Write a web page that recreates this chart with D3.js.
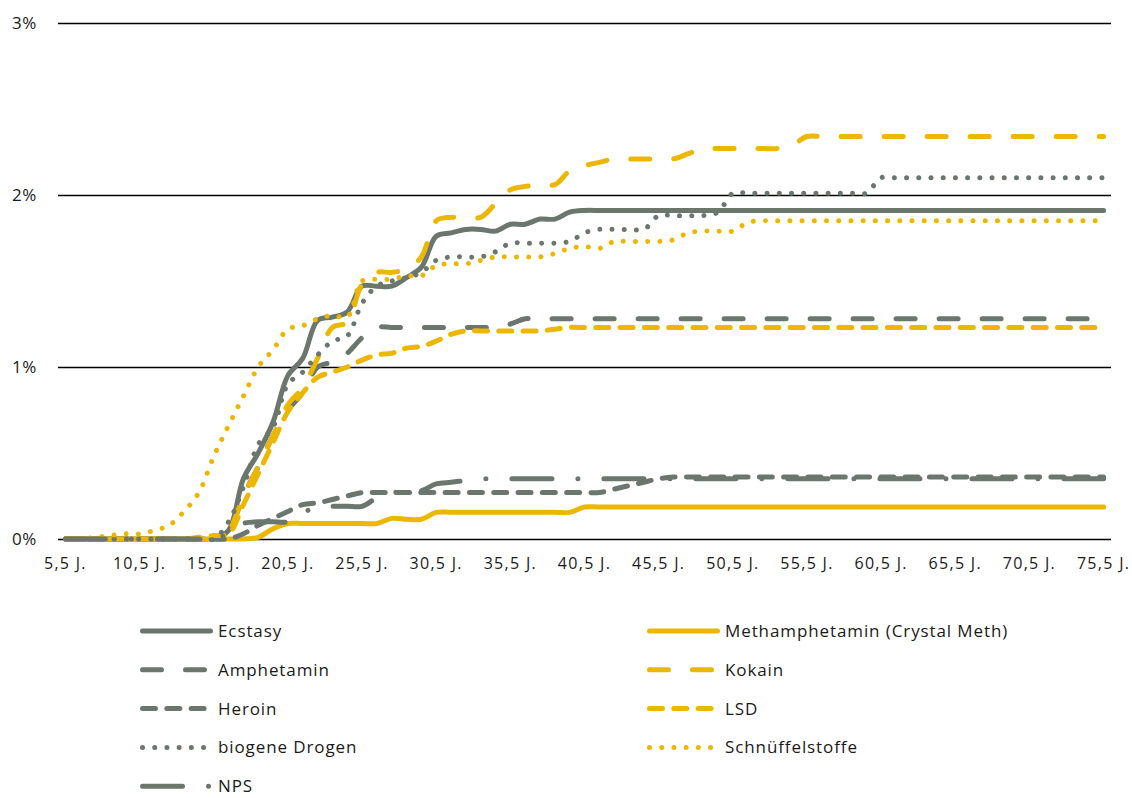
<!DOCTYPE html>
<html><head><meta charset="utf-8">
<script src="https://cdn.jsdelivr.net/npm/d3@7"></script>
<style>
html,body{margin:0;padding:0;background:#fff;}
svg{display:block;}
text{font-family:"Open Sans","Noto Sans",sans-serif;fill:#1a1a1a;}
</style></head>
<body>
<svg id="chart" width="1132" height="798"></svg>
<script>
// ---- categories (age) ----
const ages = [5.5,6.5,7.5,8.5,9.5,10.5,11.5,12.5,13.5,14.5,15.5,16.5,17.5,18.5,19.5,20.5,21.5,22.5,23.5,24.5,25.5,26.5,27.5,28.5,29.5,30.5,31.5,32.5,33.5,34.5,35.5,36.5,37.5,38.5,39.5,40.5,41.5,42.5,43.5,44.5,45.5,46.5,47.5,48.5,49.5,50.5,51.5,52.5,53.5,54.5,55.5,56.5,57.5,58.5,59.5,60.5,61.5,62.5,63.5,64.5,65.5,66.5,67.5,68.5,69.5,70.5,71.5,72.5,73.5,74.5,75.5];
const xTickValues = [5.5,10.5,15.5,20.5,25.5,30.5,35.5,40.5,45.5,50.5,55.5,60.5,65.5,70.5,75.5];
const xTickLabels = ["5,5 J.","10,5 J.","15,5 J.","20,5 J.","25,5 J.","30,5 J.","35,5 J.","40,5 J.","45,5 J.","50,5 J.","55,5 J.","60,5 J.","65,5 J.","70,5 J.","75,5 J."];
const yTickValues = [0,1,2,3];
const yTickLabels = ["0%","1%","2%","3%"];

// ---- series values (% lifetime prevalence by age) ----
const ecstasy = [0,0,0,0,0,0,0,0,0,0,0,0.05,0.35,0.5,0.68,0.95,1.05,1.27,1.29,1.32,1.47,1.47,1.47,1.52,1.58,1.76,1.78,1.80,1.80,1.79,1.83,1.83,1.86,1.86,1.90,1.91,1.91,1.91,1.91,1.91,1.91,1.91,1.91,1.91,1.91,1.91,1.91,1.91,1.91,1.91,1.91,1.91,1.91,1.91,1.91,1.91,1.91,1.91,1.91,1.91,1.91,1.91,1.91,1.91,1.91,1.91,1.91,1.91,1.91,1.91,1.91];
const methamphetamin = [0,0,0,0,0,0,0,0,0,0,0,0,0,0.01,0.06,0.09,0.09,0.09,0.09,0.09,0.09,0.09,0.12,0.115,0.115,0.155,0.155,0.155,0.155,0.155,0.155,0.155,0.155,0.155,0.155,0.186,0.186,0.186,0.186,0.186,0.186,0.186,0.186,0.186,0.186,0.186,0.186,0.186,0.186,0.186,0.186,0.186,0.186,0.186,0.186,0.186,0.186,0.186,0.186,0.186,0.186,0.186,0.186,0.186,0.186,0.186,0.186,0.186,0.186,0.186,0.186];
const amphetamin = [0,0,0,0,0,0,0,0,0,0,0,0.05,0.25,0.42,0.6,0.75,0.85,1.0,1.03,1.08,1.17,1.23,1.23,1.23,1.23,1.23,1.23,1.23,1.23,1.23,1.25,1.28,1.28,1.28,1.28,1.28,1.28,1.28,1.28,1.28,1.28,1.28,1.28,1.28,1.28,1.28,1.28,1.28,1.28,1.28,1.28,1.28,1.28,1.28,1.28,1.28,1.28,1.28,1.28,1.28,1.28,1.28,1.28,1.28,1.28,1.28,1.28,1.28,1.28,1.28,1.28];
const kokain = [0,0,0,0,0,0,0,0,0,0,0,0.05,0.25,0.42,0.6,0.78,0.88,1.05,1.23,1.26,1.48,1.55,1.55,1.57,1.64,1.85,1.87,1.87,1.87,1.95,2.03,2.05,2.06,2.06,2.14,2.17,2.19,2.21,2.21,2.21,2.21,2.21,2.24,2.27,2.27,2.27,2.27,2.27,2.27,2.29,2.34,2.34,2.34,2.34,2.34,2.34,2.34,2.34,2.34,2.34,2.34,2.34,2.34,2.34,2.34,2.34,2.34,2.34,2.34,2.34,2.34];
const heroin = [0,0,0,0,0,0,0,0,0,0,0,0,0.03,0.08,0.12,0.16,0.2,0.21,0.23,0.25,0.27,0.27,0.27,0.27,0.27,0.27,0.27,0.27,0.27,0.27,0.27,0.27,0.27,0.27,0.27,0.27,0.27,0.29,0.31,0.33,0.35,0.36,0.36,0.36,0.36,0.36,0.36,0.36,0.36,0.36,0.36,0.36,0.36,0.36,0.36,0.36,0.36,0.36,0.36,0.36,0.36,0.36,0.36,0.36,0.36,0.36,0.36,0.36,0.36,0.36,0.36];
const lsd = [0,0,0,0,0,0,0,0,0,0.01,0.02,0.03,0.2,0.38,0.56,0.74,0.85,0.94,0.97,1.0,1.04,1.07,1.08,1.11,1.12,1.15,1.19,1.21,1.21,1.21,1.21,1.21,1.21,1.22,1.23,1.23,1.23,1.23,1.23,1.23,1.23,1.23,1.23,1.23,1.23,1.23,1.23,1.23,1.23,1.23,1.23,1.23,1.23,1.23,1.23,1.23,1.23,1.23,1.23,1.23,1.23,1.23,1.23,1.23,1.23,1.23,1.23,1.23,1.23,1.23,1.23];
const biogeneDrogen = [0,0,0,0,0,0,0,0,0,0,0,0.1,0.3,0.55,0.65,0.9,0.97,1.07,1.15,1.18,1.37,1.47,1.5,1.52,1.55,1.62,1.64,1.64,1.64,1.67,1.72,1.72,1.72,1.72,1.73,1.78,1.80,1.80,1.80,1.80,1.88,1.88,1.88,1.88,1.90,2.01,2.01,2.01,2.01,2.01,2.01,2.01,2.01,2.01,2.01,2.10,2.10,2.10,2.10,2.10,2.10,2.10,2.10,2.10,2.10,2.10,2.10,2.10,2.10,2.10,2.10];
const schnueffelstoffe = [0,0,0.01,0.02,0.03,0.03,0.05,0.08,0.16,0.27,0.48,0.66,0.83,1.0,1.1,1.22,1.24,1.28,1.30,1.29,1.50,1.51,1.51,1.53,1.53,1.59,1.60,1.60,1.62,1.64,1.64,1.64,1.64,1.66,1.69,1.70,1.69,1.73,1.73,1.73,1.73,1.74,1.78,1.79,1.79,1.79,1.84,1.85,1.85,1.85,1.85,1.85,1.85,1.85,1.85,1.85,1.85,1.85,1.85,1.85,1.85,1.85,1.85,1.85,1.85,1.85,1.85,1.85,1.85,1.85,1.85];
const nps = [0,0,0,0,0,0,0,0,0,0,0,0.03,0.09,0.1,0.1,0.1,0.15,0.19,0.19,0.19,0.19,0.24,0.27,0.27,0.28,0.32,0.33,0.34,0.35,0.35,0.35,0.35,0.35,0.35,0.35,0.35,0.35,0.35,0.35,0.35,0.35,0.35,0.35,0.35,0.35,0.35,0.35,0.35,0.35,0.35,0.35,0.35,0.35,0.35,0.35,0.35,0.35,0.35,0.35,0.35,0.35,0.35,0.35,0.35,0.35,0.35,0.35,0.35,0.35,0.35,0.35];

const seriesNames = ["Ecstasy","Methamphetamin (Crystal Meth)","Amphetamin","Kokain","Heroin","LSD","biogene Drogen","Schnüffelstoffe","NPS"];
const seriesValues = [ecstasy, methamphetamin, amphetamin, kokain, heroin, lsd, biogeneDrogen, schnueffelstoffe, nps];

// ---- styles ----
const GREY = "#6b766e", YELLOW = "#ebb700";
const LONGDASH = "19,24", DASH = "13,11.3", DOT = "0.01,12.2", LONGDASHDOT = "40,26,0.01,26";
const styles = [
  {color:GREY, dash:null},
  {color:YELLOW, dash:null},
  {color:GREY, dash:LONGDASH},
  {color:YELLOW, dash:LONGDASH},
  {color:GREY, dash:DASH},
  {color:YELLOW, dash:DASH},
  {color:GREY, dash:DOT},
  {color:YELLOW, dash:DOT},
  {color:GREY, dash:LONGDASHDOT}
];
const FONT = '"Open Sans","Noto Sans",sans-serif';

const svg = d3.select("#chart");
const plotL = 58, plotR = 1111, plotT = 23, plotB = 539;

const x = d3.scaleBand().domain(ages).range([plotL, plotR]).padding(0);
const xc = a => x(a) + x.bandwidth()/2;
const y = d3.scaleLinear().domain([0,3]).range([plotB, plotT]);

// y grid + labels
const yAxis = d3.axisLeft(y).tickValues(yTickValues)
  .tickFormat((d,i) => yTickLabels[i])
  .tickSize(-(plotR - plotL)).tickPadding(21);
const gy = svg.append("g").attr("transform", `translate(${plotL},0)`).call(yAxis);
gy.select(".domain").remove();
gy.selectAll(".tick line").attr("stroke","#000").attr("stroke-width",1.6);
gy.selectAll(".tick text").attr("font-size",17).attr("fill","#1a1a1a")
  .attr("letter-spacing","0.6px").attr("dy","0.34em")
  .style("font-family",FONT);

// x axis labels
const xAxis = d3.axisBottom(x).tickValues(xTickValues)
  .tickFormat(d => xTickLabels[xTickValues.indexOf(d)])
  .tickSize(0).tickPadding(19);
const gx = svg.append("g").attr("transform", `translate(0,${plotB})`).call(xAxis);
gx.select(".domain").remove();
gx.selectAll(".tick text").attr("font-size",16).attr("fill","#1a1a1a")
  .attr("letter-spacing","1.3px")
  .style("font-family",FONT);

// lines
const line = d3.line().x((d,i) => xc(ages[i])).y(d => y(d)).curve(d3.curveCatmullRom.alpha(0.5));
const gl = svg.append("g");
seriesValues.forEach((vals, k) => {
  gl.append("path").datum(vals)
    .attr("d", line)
    .attr("fill","none")
    .attr("stroke", styles[k].color)
    .attr("stroke-width", 5)
    .attr("stroke-linecap","round")
    .attr("stroke-linejoin","round")
    .attr("stroke-dasharray", styles[k].dash);
});

// legend (two columns, row-major)
const legX = [142.5, 649.5], legY0 = 631, legDY = 38.8;
seriesNames.forEach((name, k) => {
  const col = k % 2, row = Math.floor(k / 2);
  const lx = legX[col], ly = legY0 + row * legDY;
  const g = svg.append("g");
  g.append("line").attr("x1", lx).attr("x2", lx + 68).attr("y1", ly).attr("y2", ly)
    .attr("stroke", styles[k].color).attr("stroke-width", 5)
    .attr("stroke-linecap","round").attr("stroke-dasharray", styles[k].dash);
  g.append("text").attr("x", lx + 75.5).attr("y", ly).attr("dy","0.35em")
    .attr("font-size",17).attr("letter-spacing","0.9px").text(name)
    .style("font-family",FONT);
});
</script>
</body></html>
